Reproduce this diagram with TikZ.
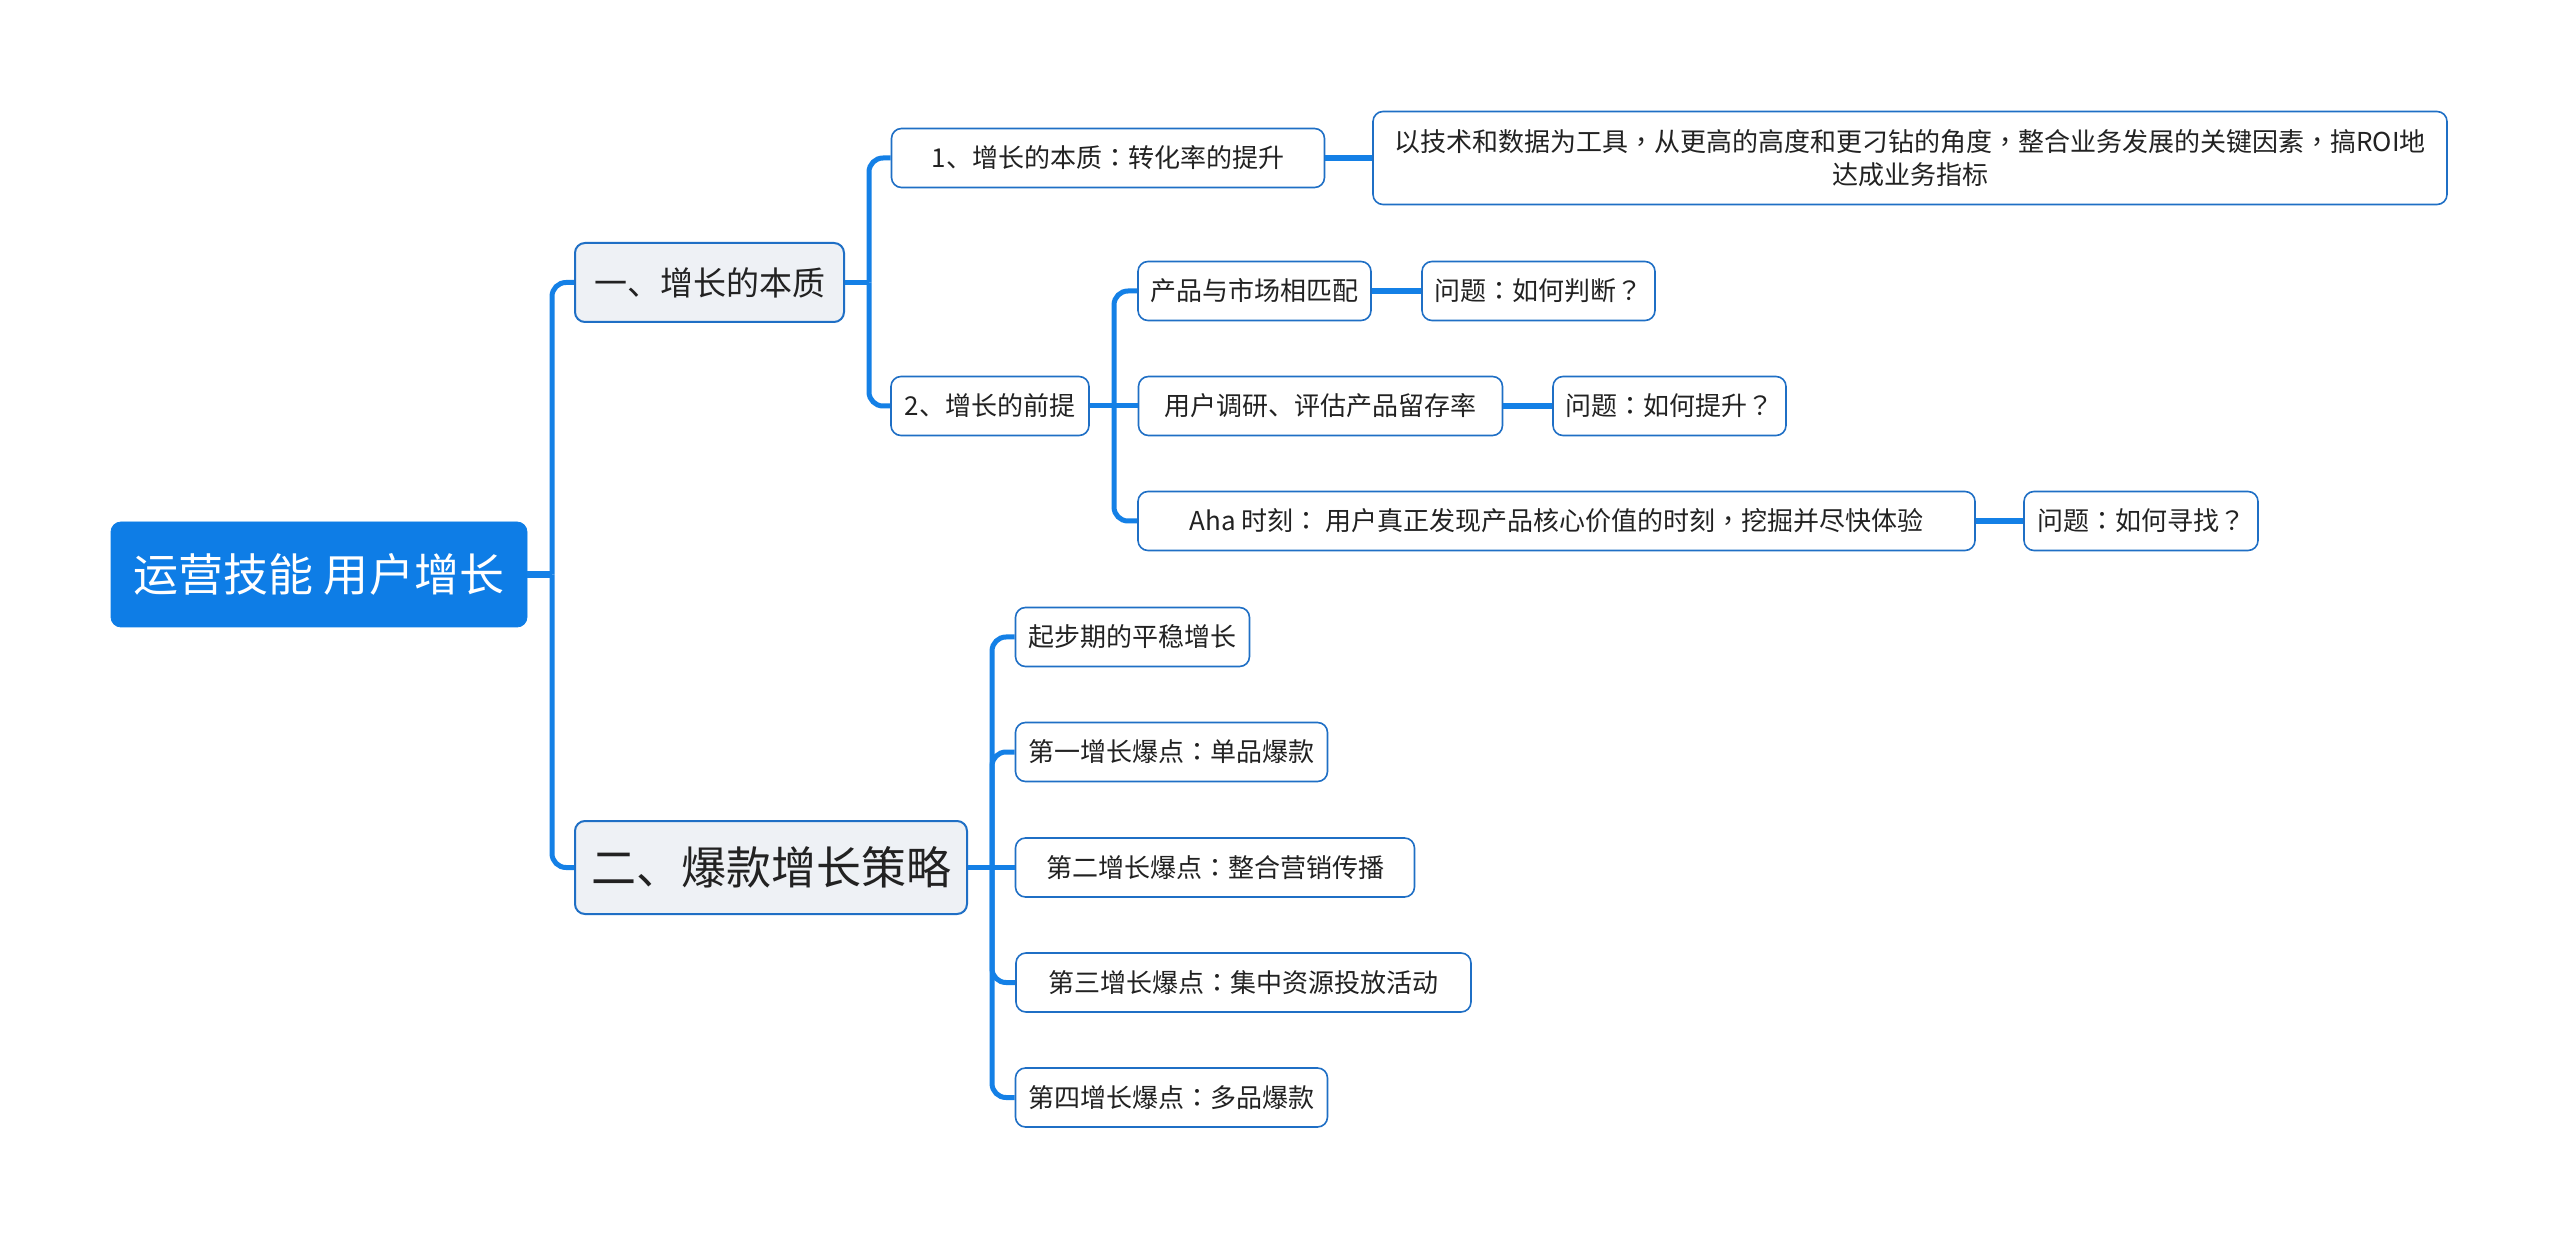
\documentclass[tikz,border=0pt]{standalone}
\usepackage{fontspec}
\setmainfont{Noto Sans CJK SC}
\newfontfamily\tcfont{Noto Sans CJK TC}
\newcommand\fcolon{{\tcfont ：}}
\newcommand\fcomma{{\tcfont ，}}
\newcommand\fques{{\tcfont ？}}
\definecolor{connc}{HTML}{1480E6}
\definecolor{bord}{HTML}{1F6FC5}
\definecolor{rootfill}{HTML}{0E7DE6}
\definecolor{lonefill}{HTML}{EEF1F5}
\definecolor{txt}{HTML}{222222}
\begin{document}
\begin{tikzpicture}[x=0.5pt,y=-0.5pt,
  basebox/.style={rounded corners=5pt, inner sep=0pt, align=center, text=txt},
  rootbox/.style={basebox, fill=rootfill, draw=rootfill, text=white,
    font=\fontsize{22.5}{27}\selectfont, minimum width=208pt, minimum height=52.5pt},
  lonebox/.style={basebox, fill=lonefill, draw=bord, line width=1pt,
    font=\fontsize{16.5}{20}\selectfont, minimum height=39.5pt},
  ltwobox/.style={basebox, fill=lonefill, draw=bord, line width=1pt,
    font=\fontsize{22.5}{27}\selectfont, minimum height=46.5pt},
  leafbox/.style={basebox, fill=white, draw=bord, line width=0.8pt,
    font=\fontsize{13}{16.5}\selectfont, minimum height=29.5pt},
  conn/.style={draw=connc, line width=2.5pt, rounded corners=7pt},
  rootconn/.style={draw=connc, line width=3.5pt},
  sibconn/.style={draw=connc, line width=2.8pt}
]
\useasboundingbox[fill=white] (0,0) rectangle (2560,1240);

% root
\node[rootbox] (root) at (319,574.5) {运营技能 用户增长};

% level 1
\node[lonebox, minimum width=134.5pt] (l1a) at (709.5,282.5) {一、增长的本质};
\node[ltwobox, minimum width=196pt] (l1b) at (771,867.5) {二、爆款增长策略};

% branch one
\node[leafbox, minimum width=216.5pt] (a1) at (1108,158) {1、增长的本质\fcolon 转化率的提升};
\node[leafbox, minimum width=99pt] (a2) at (990,406) {2、增长的前提};
\node[leafbox, minimum width=537pt, minimum height=46.5pt] (long) at (1910,158)
  {以技术和数据为工具\fcomma 从更高的高度和更刁钻的角度\fcomma 整合业务发展的关键因素\fcomma 搞ROI地\\达成业务指标};

\node[leafbox, minimum width=116.5pt] (b1) at (1254.5,291) {产品与市场相匹配};
\node[leafbox, minimum width=116.5pt] (q1) at (1538.5,291) {问题\fcolon 如何判断\fques};
\node[leafbox, minimum width=182pt] (b2) at (1320.5,406) {用户调研、评估产品留存率};
\node[leafbox, minimum width=116.5pt] (q2) at (1669.5,406) {问题\fcolon 如何提升\fques};
\node[leafbox, minimum width=418.5pt] (b3) at (1556.5,521) {Aha 时刻\fcolon\ 用户真正发现产品核心价值的时刻\fcomma 挖掘并尽快体验};
\node[leafbox, minimum width=117pt] (q3) at (2141,521) {问题\fcolon 如何寻找\fques};

% branch two
\node[leafbox, minimum width=117pt] (c1) at (1132.5,637) {起步期的平稳增长};
\node[leafbox, minimum width=156pt] (c2) at (1171.5,752) {第一增长爆点\fcolon 单品爆款};
\node[leafbox, minimum width=199.5pt] (c3) at (1215,867.5) {第二增长爆点\fcolon 整合营销传播};
\node[leafbox, minimum width=227.5pt] (c4) at (1243.5,982.5) {第三增长爆点\fcolon 集中资源投放活动};
\node[leafbox, minimum width=156pt] (c5) at (1171.5,1097.5) {第四增长爆点\fcolon 多品爆款};

% junctions
\coordinate (j0) at (552,574.5);
\coordinate (j1) at (869,282.5);
\coordinate (j2) at (1114,406);
\coordinate (j3) at (992,867.5);

% connectors
\draw[rootconn] (root.east) -- (j0);
\draw[conn] (j0) |- (l1a.west);
\draw[conn] (j0) |- (l1b.west);

\draw[conn] (l1a.east) -- (j1);
\draw[conn] (j1) |- (a1.west);
\draw[conn] (j1) |- (a2.west);
\draw[sibconn] (a1.east) -- (long.west);

\draw[conn] (a2.east) -- (b2.west);
\draw[conn] (j2) |- (b1.west);
\draw[conn] (j2) |- (b3.west);
\draw[sibconn] (b1.east) -- (q1.west);
\draw[sibconn] (b2.east) -- (q2.west);
\draw[sibconn] (b3.east) -- (q3.west);

\draw[conn] (l1b.east) -- (c3.west);
\draw[conn] (j3) |- (c1.west);
\draw[conn] (j3) |- (c2.west);
\draw[conn] (j3) |- (c4.west);
\draw[conn] (j3) |- (c5.west);
\end{tikzpicture}
\end{document}
